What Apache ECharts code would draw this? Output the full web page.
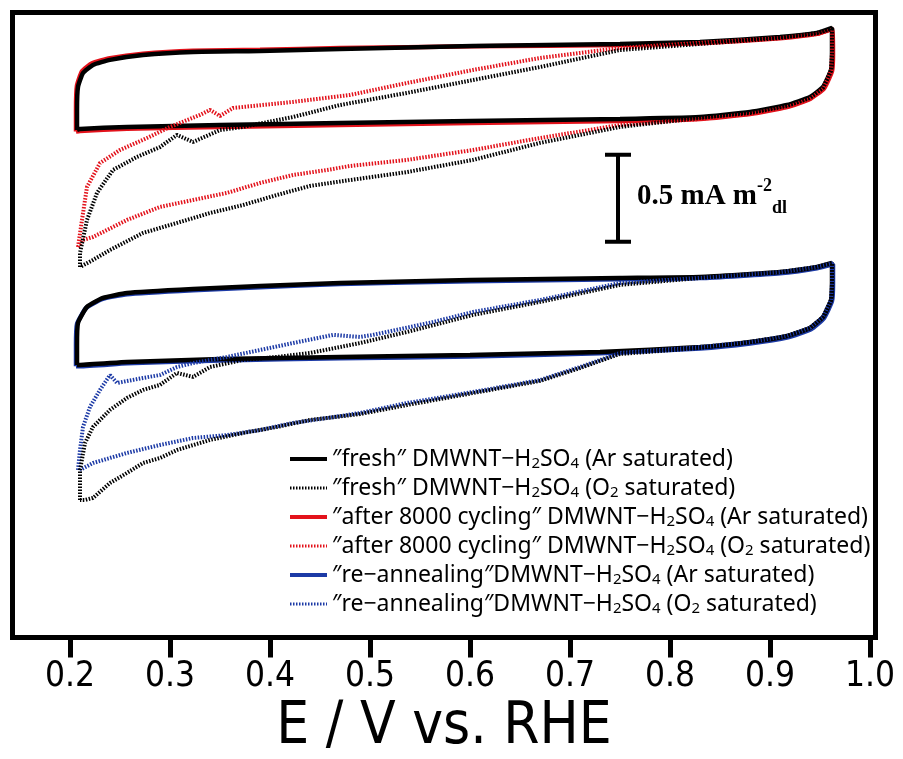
<!DOCTYPE html>
<html>
<head>
<meta charset="utf-8">
<script src="https://cdn.jsdelivr.net/npm/echarts@6/dist/echarts.min.js"></script>
<style>
  html, body { margin: 0; padding: 0; background: #fff; }
  #chart { width: 903px; height: 759px; }
</style>
</head>
<body>
<div id="chart"></div>
<script>
// potential axis ticks (V vs. RHE)
const eTicks = [0.2, 0.3, 0.4, 0.5, 0.6, 0.7, 0.8, 0.9, 1.0];

// current density, mA m^-2 (offset stacked, y axis hidden)
// upper panel
const freshArUpper = [[0.207,2.923],[0.207,3.039],[0.208,3.171],[0.213,3.252],[0.223,3.298],[0.240,3.327],[0.273,3.355],[0.323,3.373],[0.390,3.378],[0.470,3.390],[0.603,3.407],[0.750,3.419],[0.830,3.430],[0.910,3.459],[0.947,3.482],[0.962,3.511],
  [0.962,3.367],[0.961,3.269],[0.953,3.171],[0.940,3.113],[0.917,3.067],[0.880,3.027],[0.830,2.998],[0.750,2.987],[0.600,2.975],[0.470,2.964],[0.350,2.952],[0.257,2.941],[0.210,2.929],[0.207,2.923]];
const cycledAr = [[0.206,2.915],[0.206,3.040],[0.207,3.180],[0.212,3.262],[0.222,3.308],[0.240,3.337],[0.273,3.363],[0.323,3.380],[0.390,3.385],[0.470,3.395],[0.603,3.405],[0.750,3.413],[0.830,3.423],[0.910,3.452],[0.947,3.477],[0.962,3.505],
  [0.963,3.360],[0.962,3.262],[0.954,3.162],[0.940,3.102],[0.917,3.055],[0.880,3.015],[0.830,2.986],[0.750,2.975],[0.600,2.963],[0.470,2.952],[0.350,2.941],[0.257,2.930],[0.210,2.918],[0.206,2.915]];
const freshO2Upper = [[0.210,2.134],[0.210,2.215],[0.217,2.405],[0.227,2.561],[0.243,2.693],[0.267,2.768],[0.290,2.825],[0.307,2.895],[0.323,2.854],[0.350,2.923],[0.373,2.941],[0.423,2.998],[0.470,3.067],[0.537,3.137],[0.603,3.211],[0.670,3.286],[0.750,3.384],[0.830,3.419],[0.910,3.453],[0.947,3.482],[0.962,3.505],
  [0.962,3.367],[0.961,3.269],[0.953,3.165],[0.940,3.108],[0.917,3.062],[0.880,3.021],[0.830,2.993],[0.750,2.941],[0.670,2.849],[0.603,2.751],[0.537,2.681],[0.480,2.635],[0.440,2.601],[0.407,2.549],[0.373,2.491],[0.340,2.445],[0.307,2.388],[0.273,2.330],[0.240,2.232],[0.223,2.175],[0.210,2.134]];
const cycledO2 = [[0.208,2.249],[0.212,2.405],[0.217,2.595],[0.230,2.733],[0.250,2.808],[0.277,2.877],[0.300,2.941],[0.330,3.010],[0.340,3.039],[0.350,3.004],[0.363,3.050],[0.423,3.085],[0.480,3.125],[0.537,3.194],[0.603,3.269],[0.670,3.338],[0.750,3.396],[0.830,3.425],[0.910,3.453],[0.947,3.476],[0.962,3.500],
  [0.962,3.361],[0.961,3.263],[0.953,3.160],[0.940,3.102],[0.917,3.056],[0.880,3.016],[0.830,2.987],[0.750,2.952],[0.670,2.877],[0.603,2.808],[0.537,2.751],[0.480,2.716],[0.457,2.693],[0.423,2.664],[0.390,2.618],[0.357,2.561],[0.323,2.520],[0.290,2.480],[0.257,2.405],[0.223,2.307],[0.213,2.290],[0.208,2.249]];

// lower panel
const freshArLower = [[0.207,1.570],[0.207,1.685],[0.208,1.812],[0.217,1.904],[0.233,1.956],[0.257,1.984],[0.323,2.007],[0.390,2.025],[0.470,2.042],[0.600,2.059],[0.750,2.071],[0.830,2.077],[0.910,2.105],[0.947,2.134],[0.962,2.157],
  [0.962,2.042],[0.961,1.944],[0.953,1.846],[0.940,1.783],[0.917,1.737],[0.880,1.702],[0.830,1.673],[0.730,1.645],[0.600,1.627],[0.470,1.616],[0.350,1.604],[0.257,1.587],[0.210,1.570],[0.207,1.570]];
const reannealAr = [[0.206,1.562],[0.206,1.680],[0.207,1.806],[0.216,1.897],[0.232,1.949],[0.257,1.977],[0.323,2.000],[0.390,2.018],[0.470,2.036],[0.600,2.052],[0.750,2.064],[0.830,2.070],[0.910,2.098],[0.947,2.127],[0.963,2.150],
  [0.963,2.036],[0.962,1.938],[0.954,1.840],[0.941,1.776],[0.918,1.729],[0.880,1.694],[0.830,1.665],[0.730,1.637],[0.600,1.619],[0.470,1.608],[0.350,1.596],[0.257,1.579],[0.210,1.562],[0.206,1.562]];
const freshO2Lower = [[0.210,0.792],[0.210,0.965],[0.215,1.120],[0.223,1.213],[0.240,1.311],[0.257,1.380],[0.273,1.426],[0.290,1.455],[0.307,1.524],[0.323,1.501],[0.340,1.558],[0.373,1.599],[0.407,1.616],[0.440,1.639],[0.490,1.696],[0.537,1.760],[0.603,1.858],[0.670,1.933],[0.750,2.031],[0.830,2.071],[0.910,2.105],[0.947,2.134],[0.962,2.157],
  [0.962,2.042],[0.961,1.944],[0.953,1.846],[0.940,1.783],[0.917,1.737],[0.880,1.702],[0.830,1.668],[0.750,1.633],[0.710,1.552],[0.670,1.478],[0.603,1.408],[0.537,1.339],[0.490,1.287],[0.440,1.253],[0.407,1.213],[0.373,1.178],[0.340,1.138],[0.307,1.080],[0.290,1.034],[0.273,1.005],[0.257,0.948],[0.240,0.890],[0.223,0.804],[0.215,0.792],[0.210,0.792]];
const reannealO2 = [[0.208,0.965],[0.210,1.080],[0.213,1.213],[0.220,1.328],[0.230,1.426],[0.240,1.512],[0.247,1.466],[0.273,1.495],[0.290,1.512],[0.307,1.558],[0.323,1.581],[0.357,1.616],[0.390,1.656],[0.423,1.696],[0.463,1.743],[0.490,1.731],[0.503,1.743],[0.563,1.817],[0.603,1.875],[0.670,1.944],[0.750,2.042],[0.830,2.071],[0.910,2.105],[0.947,2.134],[0.962,2.157],
  [0.962,2.042],[0.961,1.944],[0.953,1.846],[0.940,1.783],[0.917,1.737],[0.880,1.702],[0.830,1.673],[0.750,1.639],[0.710,1.558],[0.670,1.483],[0.603,1.414],[0.537,1.351],[0.490,1.293],[0.457,1.264],[0.423,1.236],[0.390,1.195],[0.357,1.166],[0.323,1.149],[0.290,1.109],[0.257,1.063],[0.223,1.005],[0.210,0.965]];

// scale bar: 0.5 mA m^-2
const scaleBar = [[0.735,2.78],[0.761,2.78],[0.748,2.78],[0.748,2.28],[0.735,2.28],[0.761,2.28]];

const names = [
  '″fresh″ DMWNT−H2SO4 (Ar saturated)',
  '″fresh″ DMWNT−H2SO4 (O2 saturated)',
  '″after 8000 cycling″ DMWNT−H2SO4 (Ar saturated)',
  '″after 8000 cycling″ DMWNT−H2SO4 (O2 saturated)',
  '″re−annealing″DMWNT−H2SO4 (Ar saturated)',
  '″re−annealing″DMWNT−H2SO4 (O2 saturated)'
];

const RED = '#e3121b', BLUE = '#1c3aa6', BLACK = '#000';
const dots = [1.5, 1.5];
const NARROW = '"DejaVu Sans Condensed", "Liberation Sans Narrow", "Liberation Sans", sans-serif';

function curve(name, data, color, width, type, z, smooth) {
  return {
    name: name, type: 'line', data: data, symbol: 'none', z: z, smooth: smooth || false,
    lineStyle: { color: color, width: width, type: type },
    itemStyle: { color: color }
  };
}

// legend keys: solid keys thick, dotted keys thinner
const legendData = names.map((n, i) => ({
  name: n,
  lineStyle: { width: i % 2 === 0 ? 4 : 3 }
}));

const chart = echarts.init(document.getElementById('chart'));
chart.setOption({
  animation: false,
  title: {
    text: '{a|0.5 mA m}{sup|-2}{sub|dl}',
    left: 632, top: 172,
    textStyle: {
      rich: {
        a: { fontFamily: 'Liberation Serif', fontWeight: 'bold', fontSize: 29, color: BLACK, lineHeight: 40 },
        sup: { fontFamily: 'Liberation Serif', fontWeight: 'bold', fontSize: 18, color: BLACK, lineHeight: 30, verticalAlign: 'top' },
        sub: { fontFamily: 'Liberation Serif', fontWeight: 'bold', fontSize: 18, color: BLACK, lineHeight: 22, verticalAlign: 'bottom' }
      }
    }
  },
  legend: {
    data: legendData,
    orient: 'vertical',
    left: 283, top: 442,
    itemWidth: 37, itemHeight: 14, itemGap: 5,
    itemStyle: { opacity: 0 },
    formatter: n => n.replace('H2SO4', 'H{s|2}SO{s|4}').replace('(O2', '(O{s|2}'),
    textStyle: {
      fontFamily: 'Noto Sans', fontSize: 23, color: BLACK, lineHeight: 24,
      rich: { s: { fontFamily: 'Noto Sans', fontSize: 15, color: BLACK, lineHeight: 14, verticalAlign: 'bottom' } }
    }
  },
  grid: { left: 12.5, right: 27.5, top: 12.5, bottom: 121.5, show: true, borderColor: BLACK, borderWidth: 5, outerBoundsMode: 'none', containLabel: false },
  xAxis: {
    type: 'value', min: 0.1425, max: 1.0055,
    axisLine: { show: false },
    splitLine: { show: false },
    axisTick: { show: true, inside: false, length: 20, customValues: eTicks, lineStyle: { color: BLACK, width: 5 } },
    axisLabel: { customValues: eTicks, formatter: v => v.toFixed(1), fontFamily: NARROW, fontSize: 35, color: BLACK, margin: 22 },
    name: 'E / V vs. RHE', nameLocation: 'middle', nameGap: 52,
    nameTextStyle: { fontFamily: NARROW, fontSize: 58, color: BLACK }
  },
  yAxis: { type: 'value', min: 0, max: 3.6, show: false },
  series: [
    curve(names[2], cycledAr, RED, 4.5, 'solid', 2, 0.15),
    curve(names[0], freshArUpper, BLACK, 4.5, 'solid', 3, 0.15),
    curve(names[3], cycledO2, RED, 4, dots, 4),
    curve(names[1], freshO2Upper, BLACK, 4, dots, 4),
    curve(names[4], reannealAr, BLUE, 4.5, 'solid', 2, 0.15),
    curve(names[0], freshArLower, BLACK, 4.5, 'solid', 3, 0.15),
    curve(names[5], reannealO2, BLUE, 4, dots, 4),
    curve(names[1], freshO2Lower, BLACK, 4, dots, 4),
    { name: 'scale', type: 'line', data: scaleBar, symbol: 'none', z: 5, lineStyle: { color: BLACK, width: 4 } }
  ]
});
</script>
</body>
</html>
